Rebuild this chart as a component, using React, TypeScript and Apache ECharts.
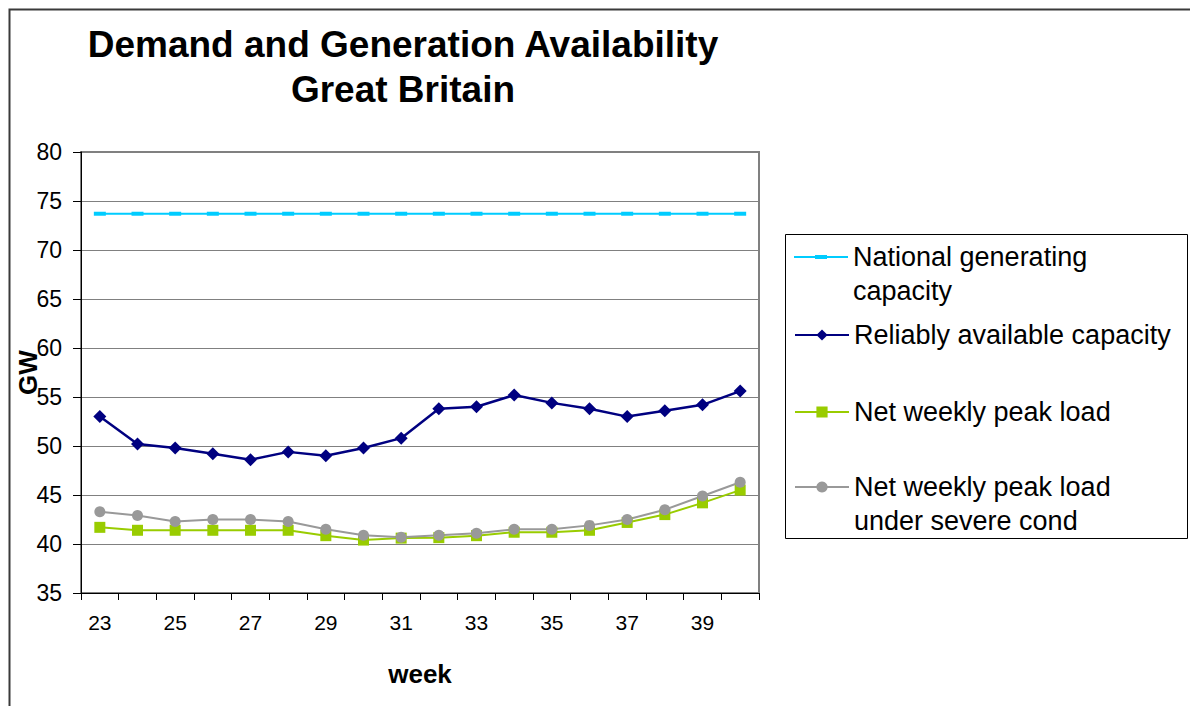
import React, { useEffect, useRef } from "react";
import * as echarts from "echarts";

const weeks = ["23", "24", "25", "26", "27", "28", "29", "30", "31", "32", "33", "34", "35", "36", "37", "38", "39", "40"];
const nationalCapacity = [73.7, 73.7, 73.7, 73.7, 73.7, 73.7, 73.7, 73.7, 73.7, 73.7, 73.7, 73.7, 73.7, 73.7, 73.7, 73.7, 73.7, 73.7];
const reliableCapacity = [53.0, 50.2, 49.8, 49.2, 48.6, 49.4, 49.0, 49.8, 50.8, 53.8, 54.0, 55.2, 54.4, 53.8, 53.0, 53.6, 54.2, 55.6];
const netPeakLoad = [41.7, 41.4, 41.4, 41.4, 41.4, 41.4, 40.85, 40.4, 40.6, 40.65, 40.85, 41.2, 41.2, 41.4, 42.2, 43.0, 44.2, 45.5];
const severePeakLoad = [43.3, 42.9, 42.3, 42.5, 42.5, 42.3, 41.5, 40.9, 40.7, 40.9, 41.1, 41.5, 41.5, 41.9, 42.5, 43.5, 44.9, 46.3];

const seriesNames = [
  "National generating capacity",
  "Reliably available capacity",
  "Net weekly peak load",
  "Net weekly peak load under severe cond",
];
// leading empty line keeps the legend icon level with the first text line
const legendLabels = [
  "\nNational generating\ncapacity",
  "Reliably available capacity",
  "Net weekly peak load",
  "\nNet weekly peak load\nunder severe cond",
];

const FONT = "'Liberation Sans', Arial, Helvetica, sans-serif";

export default function App() {
  const ref = useRef<HTMLDivElement>(null);

  useEffect(() => {
    if (!ref.current) return;
    const chart = echarts.init(ref.current, undefined, { renderer: "svg" });

    const legendFont = 27;
    const lh = 34;
    const mkLegend = (idx: number, top: number, extra: any = {}) => ({
      show: true,
      orient: "vertical",
      left: 794,
      top,
      padding: 0,
      itemGap: 0,
      itemWidth: 54,
      itemHeight: 14,
      data: [seriesNames[idx]],
      formatter: () => legendLabels[idx],
      selectedMode: false,
      textStyle: {
        fontFamily: FONT,
        fontSize: legendFont,
        color: "#000",
        lineHeight: lh,
      },
      ...extra,
    });

    const option: any = {
      animation: false,
      backgroundColor: "#fff",
      title: {
        text: "Demand and Generation Availability\nGreat Britain",
        left: 403,
        top: 22,
        padding: 0,
        textAlign: "center",
        textStyle: {
          fontFamily: FONT,
          fontSize: 37,
          fontWeight: "bold",
          color: "#000",
          lineHeight: 45,
        },
      },
      legend: [
        mkLegend(0, 206, {
          itemHeight: 4,
          data: [
            {
              name: seriesNames[0],
              icon: "path://M0,1H21V0H33V1H54V3H33V4H21V3H0Z",
            },
          ],
        }),
        mkLegend(1, 318),
        mkLegend(2, 395),
        mkLegend(3, 436),
      ],
      graphic: [
        {
          type: "rect",
          left: 7,
          top: 7,
          shape: { x: 0, y: 0, width: 1300, height: 800 },
          style: { fill: "none", stroke: "#3a3a3a", lineWidth: 2 },
          silent: true,
          z: -10,
        },
        {
          type: "rect",
          shape: { x: 785.5, y: 234.5, width: 402, height: 304 },
          style: { fill: "none", stroke: "#000", lineWidth: 1 },
          silent: true,
        },
      ],
      grid: {
        left: 81,
        right: 431,
        top: 152,
        bottom: 113,
        show: true,
        borderColor: "#808080",
        borderWidth: 2,
        backgroundColor: "transparent",
        containLabel: false,
        outerBoundsMode: "none",
      },
      xAxis: {
        type: "category",
        data: weeks,
        boundaryGap: true,
        name: "week",
        nameLocation: "middle",
        nameGap: 68,
        nameMoveOverlap: false,
        nameTextStyle: { fontFamily: FONT, fontSize: 26, fontWeight: "bold", color: "#000" },
        axisLine: { show: true, lineStyle: { color: "#000", width: 1 } },
        axisTick: { show: true, interval: 0, length: 7, lineStyle: { color: "#000" } },
        axisLabel: {
          interval: 1,
          margin: 19,
          fontFamily: FONT,
          fontSize: 21,
          color: "#000",
        },
        splitLine: { show: false },
      },
      yAxis: {
        type: "value",
        min: 35,
        max: 80,
        interval: 5,
        name: "GW",
        nameLocation: "middle",
        nameRotate: 90,
        nameGap: 40,
        nameMoveOverlap: false,
        nameTextStyle: { fontFamily: FONT, fontSize: 26, fontWeight: "bold", color: "#000" },
        axisLine: { show: true, lineStyle: { color: "#000", width: 1 } },
        axisTick: { show: true, length: 8, lineStyle: { color: "#000" } },
        axisLabel: {
          margin: 19,
          fontFamily: FONT,
          fontSize: 23,
          color: "#000",
        },
        splitLine: { show: true, lineStyle: { color: "#808080", width: 1 } },
      },
      series: [
        {
          name: seriesNames[0],
          type: "line",
          data: nationalCapacity,
          symbol: "rect",
          symbolSize: [12, 4],
          lineStyle: { color: "#00CCFF", width: 2 },
          itemStyle: { color: "#00CCFF" },
        },
        {
          name: seriesNames[1],
          type: "line",
          data: reliableCapacity,
          symbol: "diamond",
          symbolSize: 13,
          lineStyle: { color: "#000080", width: 2.5 },
          itemStyle: { color: "#000080" },
        },
        {
          name: seriesNames[2],
          type: "line",
          data: netPeakLoad,
          symbol: "rect",
          symbolSize: 11,
          lineStyle: { color: "#99CC00", width: 2 },
          itemStyle: { color: "#99CC00" },
        },
        {
          name: seriesNames[3],
          type: "line",
          data: severePeakLoad,
          symbol: "circle",
          symbolSize: 11,
          lineStyle: { color: "#999999", width: 2 },
          itemStyle: { color: "#999999" },
        },
      ],
    };

    chart.setOption(option);
    return () => {
      chart.dispose();
    };
  }, []);

  return (
    <div
      ref={ref}
      style={{ position: "absolute", left: 0, top: 0, width: 1190, height: 706 }}
    />
  );
}
